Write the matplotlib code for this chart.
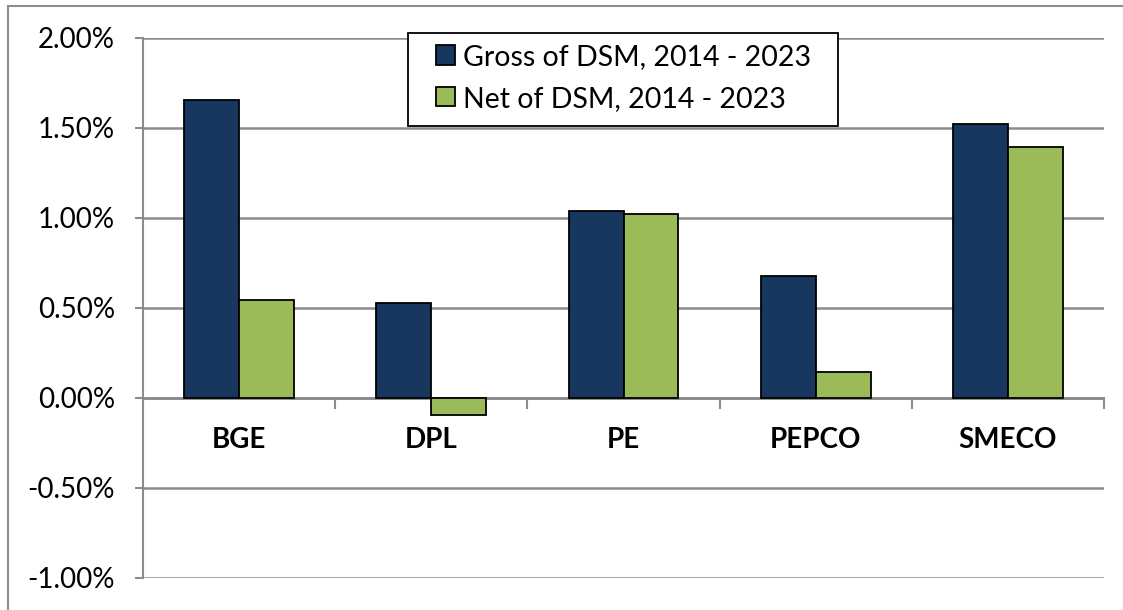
import matplotlib.pyplot as plt
import matplotlib.ticker as mticker
from matplotlib.patches import Rectangle
import numpy as np

plt.rcParams['font.family'] = ['Lato', 'DejaVu Sans']

# data (percent)
utilities = ['BGE', 'DPL', 'PE', 'PEPCO', 'SMECO']
gross_dsm = [1.655, 0.530, 1.040, 0.676, 1.524]
net_dsm = [0.545, -0.093, 1.022, 0.143, 1.396]
series_names = ['Gross of DSM, 2014 - 2023', 'Net of DSM, 2014 - 2023']

navy = '#17375E'
green = '#9BBB59'
grid_gray = '#8C8C8C'

W, H = 1123, 610
fig = plt.figure(figsize=(W / 100, H / 100), dpi=100)
ax = fig.add_axes([143 / W, 32 / H, (1104 - 143) / W, 540 / H])

# outer chart border
fig.patches.append(Rectangle((8 / W, -0.05), 1.2, 1 - 6 / H + 0.05,
                             transform=fig.transFigure, fill=False,
                             edgecolor=grid_gray, linewidth=1.5))

x = np.arange(len(utilities))
w = 0.286
ax.bar(x - w / 2, gross_dsm, w, color=navy, edgecolor='black', linewidth=1.3,
       label=series_names[0], zorder=3)
ax.bar(x + w / 2, net_dsm, w, color=green, edgecolor='black', linewidth=1.3,
       label=series_names[1], zorder=3)

ax.set_xlim(-0.5, len(utilities) - 0.5)
ax.set_ylim(-1.0, 2.0)
ax.set_yticks(np.arange(-1.0, 2.01, 0.5))
ax.yaxis.set_major_formatter(mticker.FuncFormatter(lambda v, p: f'{v:.2f}%'))
ax.grid(axis='y', color=grid_gray, linewidth=1.8, zorder=0)
ax.set_axisbelow(True)

for s in ['top', 'right', 'bottom']:
    ax.spines[s].set_visible(False)
ax.spines['left'].set_color(grid_gray)
ax.spines['left'].set_linewidth(1.5)

# zero axis line with category separator ticks
ax.axhline(0, color=grid_gray, linewidth=2.0, zorder=2)
for b in np.arange(-0.5, len(utilities), 1.0):
    ax.plot([b, b], [0, -0.055], color=grid_gray, linewidth=1.5, zorder=2,
            clip_on=False)

ax.set_xticks([])
ax.tick_params(axis='y', length=6, width=1.5, color=grid_gray, pad=14,
               labelsize=20)

for i, name in enumerate(utilities):
    ax.text(i, -0.233, name, ha='center', va='center', fontsize=20,
            fontweight='bold')

# legend: frame drawn by hand so the side padding can be wider than top/bottom
ax.add_patch(Rectangle((408 / W, 1 - 126 / H), 430 / W, 93 / H,
                       transform=fig.transFigure, facecolor='white',
                       edgecolor='black', linewidth=1.3, zorder=5,
                       clip_on=False))
leg = ax.legend(loc='upper left', bbox_to_anchor=(436 / W, 1 - 44 / H),
                bbox_transform=fig.transFigure, borderaxespad=0, borderpad=0,
                fontsize=20.5, frameon=False,
                handlelength=0.66, handleheight=0.66, handletextpad=0.28,
                labelspacing=0.55)
leg.set_zorder(6)
for h in leg.legend_handles:
    h.set_edgecolor('black')

fig.savefig('out.png', dpi=100)
